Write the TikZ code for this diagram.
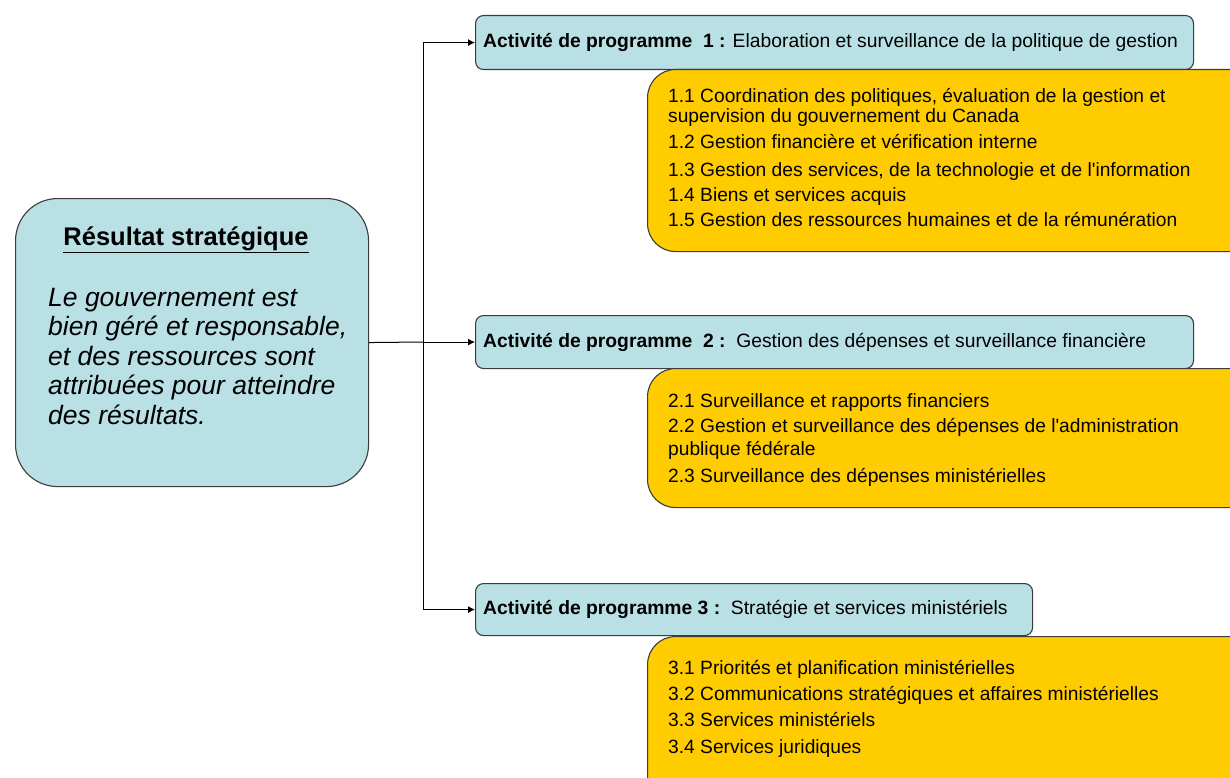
\documentclass[tikz,border=0pt]{standalone}
\usepackage{fontspec}
\setmainfont{Liberation Sans}
\usetikzlibrary{arrows.meta}
\definecolor{bluefill}{RGB}{185,224,229}
\definecolor{orangefill}{RGB}{255,204,0}
\definecolor{edgecol}{RGB}{60,60,60}
\begin{document}
\begin{tikzpicture}[x=1pt,y=-1pt,
  bluebox/.style={draw=edgecol, fill=bluefill, line width=1.1pt, rounded corners=8pt, anchor=north west, inner sep=0pt},
  orangebox/.style={draw=edgecol, fill=orangefill, line width=1.1pt, rounded corners=28pt, anchor=north west, inner sep=0pt},
  mainbox/.style={draw=edgecol, fill=bluefill, line width=1.1pt, rounded corners=42pt, anchor=north west, inner sep=0pt},
  prog/.style={anchor=west, inner sep=0pt, font=\fontsize{19.3}{22}\selectfont},
  item/.style={anchor=base west, inner sep=0pt, font=\fontsize{19.2}{22}\selectfont},
  restline/.style={anchor=base west, inner sep=0pt, font=\fontsize{26.5}{30}\selectfont\itshape},
  conn/.style={line width=1pt, draw=black},
  arr/.style={conn, -{Latex[length=7pt,width=7pt]}}
]
\clip (0,0) rectangle (1230,778);
\fill[white] (0,0) rectangle (1230,778);

% main box
\node[mainbox, minimum width=353pt, minimum height=288pt] (res) at (15,198) {};
\node[anchor=base, inner sep=0pt, font=\fontsize{25.5}{30}\selectfont\bfseries] (title) at (186,245) {\underline{Résultat stratégique}};
\node[restline] (r1) at (48,306) {Le gouvernement est};
\node[restline] (r2) at (48,335.5) {bien géré et responsable,};
\node[restline] (r3) at (48,365) {et des ressources sont};
\node[restline] (r4) at (48,394.5) {attribuées pour atteindre};
\node[restline] (r5) at (48,424) {des résultats.};

% program boxes
\node[bluebox, minimum width=718pt, minimum height=54pt] (p1) at (475,15) {};
\node[prog] (p1t) at ([xshift=8pt]p1.west) {\textbf{Activité de programme\ \ 1 :} Elaboration et surveillance de la politique de gestion};

\node[orangebox, minimum width=620pt, minimum height=182pt] (o1) at (647,69) {};
\node[item] (o11) at (668,103) {1.1 Coordination des politiques, évaluation de la gestion et};
\node[item] (o11b) at (668,123) {supervision du gouvernement du Canada};
\node[item] (o12) at (668,149) {1.2 Gestion financière et vérification interne};
\node[item] (o13) at (668,176) {1.3 Gestion des services, de la technologie et de l\textquotesingle information};
\node[item] (o14) at (668,201) {1.4 Biens et services acquis};
\node[item] (o15) at (668,226) {1.5 Gestion des ressources humaines et de la rémunération};

\node[bluebox, minimum width=718pt, minimum height=53pt] (p2) at (475,315) {};
\node[prog] (p2t) at ([xshift=8pt]p2.west) {\textbf{Activité de programme\ \ 2 :}\ \ Gestion des dépenses et surveillance financière};

\node[orangebox, minimum width=620pt, minimum height=139pt] (o2) at (647,368) {};
\node[item] (o21) at (668,407) {2.1 Surveillance et rapports financiers};
\node[item] (o22) at (668,432) {2.2 Gestion et surveillance des dépenses de l\textquotesingle administration};
\node[item] (o22b) at (668,455) {publique fédérale};
\node[item] (o23) at (668,482) {2.3 Surveillance des dépenses ministérielles};

\node[bluebox, minimum width=557pt, minimum height=52pt] (p3) at (475,583) {};
\node[prog] (p3t) at ([xshift=8pt]p3.west) {\textbf{Activité de programme 3 :}\ \ Stratégie et services ministériels};

\node[orangebox, minimum width=620pt, minimum height=180pt] (o3) at (647,636) {};
\node[item] (o31) at (668,674) {3.1 Priorités et planification ministérielles};
\node[item] (o32) at (668,700) {3.2 Communications stratégiques et affaires ministérielles};
\node[item] (o33) at (668,726) {3.3 Services ministériels};
\node[item] (o34) at (668,753) {3.4 Services juridiques};

% connectors
\coordinate (j) at (423,342);
\draw[conn] (res.east) -- (j);
\draw[arr] (j) |- (p1.west);
\draw[arr] (j |- p2.west) -- (p2.west);
\draw[arr] (j) |- (p3.west);
\end{tikzpicture}
\end{document}
